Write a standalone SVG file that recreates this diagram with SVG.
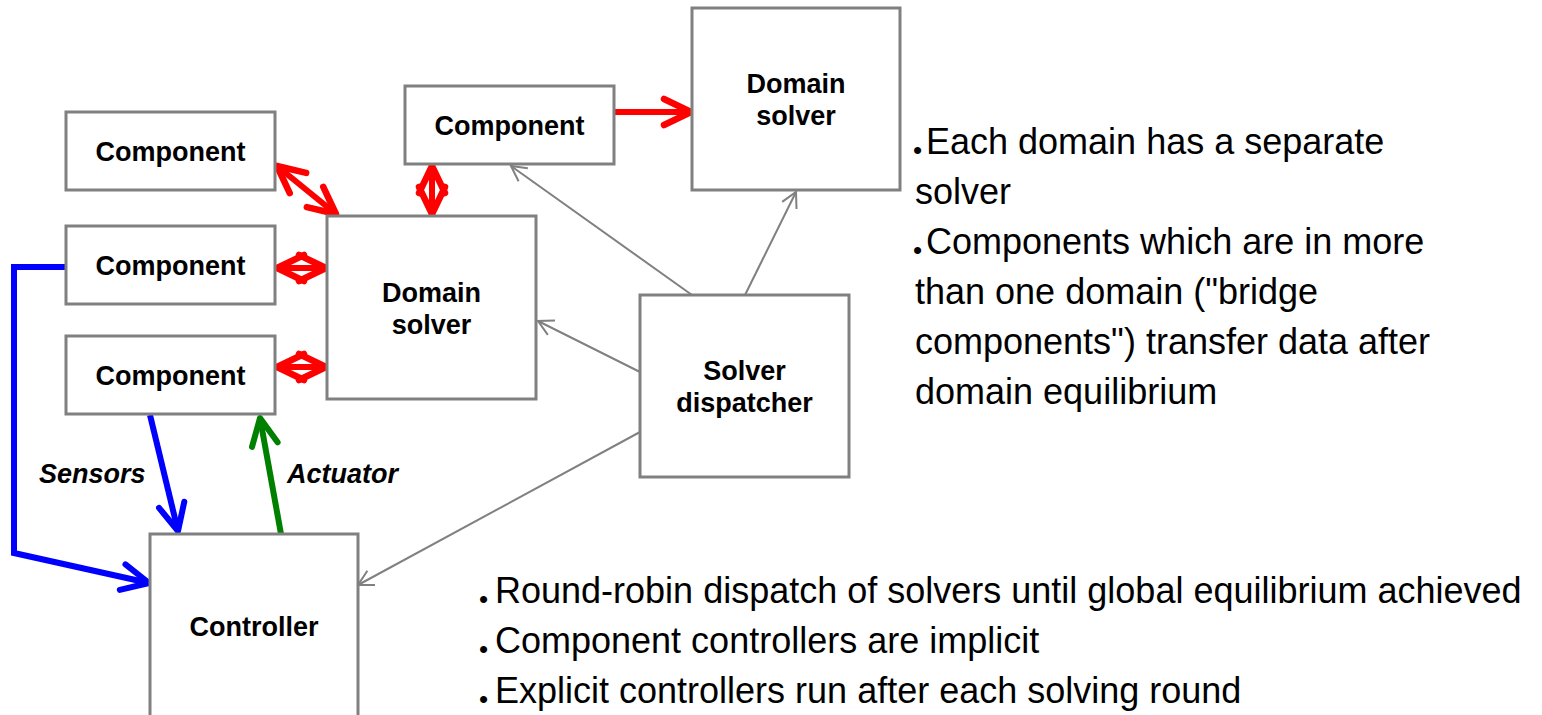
<svg xmlns="http://www.w3.org/2000/svg" width="1542" height="715" viewBox="0 0 1542 715">
<style>
.box{fill:#fff;stroke:#808080;stroke-width:3}
.lbl{font-family:"Liberation Sans",Arial,sans-serif;font-weight:bold;font-size:27px;fill:#000;text-anchor:middle}
.ital{font-family:"Liberation Sans",Arial,sans-serif;font-weight:bold;font-style:italic;font-size:27px;fill:#000}
.body{font-family:"Liberation Sans",Arial,sans-serif;font-size:36px;fill:#000}
.bul{font-size:26px}
.red{stroke:#ff0000;stroke-width:6;fill:none;stroke-linecap:round;stroke-linejoin:round}
.blue{stroke:#0000ff;stroke-width:6;fill:none;stroke-linejoin:miter}
.green{stroke:#008000;stroke-width:6;fill:none}
.gray{stroke:#808080;stroke-width:2;fill:none}
</style>
<defs>
<marker id="ar" markerUnits="userSpaceOnUse" viewBox="-34 -20 40 40" refX="0" refY="0" markerWidth="40" markerHeight="40" orient="auto-start-reverse" overflow="visible">
<path d="M-27,-13 L0,0 L-27,13" fill="none" stroke="#ff0000" stroke-width="6.5" stroke-linecap="round" stroke-linejoin="round"/>
</marker>
<marker id="ab" markerUnits="userSpaceOnUse" viewBox="-34 -20 40 40" refX="0" refY="0" markerWidth="40" markerHeight="40" orient="auto" overflow="visible">
<path d="M-27,-13 L0,0 L-27,13" fill="none" stroke="#0000ff" stroke-width="6" stroke-linecap="round" stroke-linejoin="round"/>
</marker>
<marker id="ag" markerUnits="userSpaceOnUse" viewBox="-34 -20 40 40" refX="0" refY="0" markerWidth="40" markerHeight="40" orient="auto" overflow="visible">
<path d="M-27,-13 L0,0 L-27,13" fill="none" stroke="#008000" stroke-width="6" stroke-linecap="round" stroke-linejoin="round"/>
</marker>
<marker id="ay" markerUnits="userSpaceOnUse" viewBox="-20 -12 24 24" refX="0" refY="0" markerWidth="24" markerHeight="24" orient="auto" overflow="visible">
<path d="M-15,-8 L0,0 L-15,8" fill="none" stroke="#808080" stroke-width="2"/>
</marker>
</defs>
<rect width="1542" height="715" fill="#fff"/>

<g id="connectors">
<line class="gray" x1="692" y1="295" x2="511" y2="166" marker-end="url(#ay)"/>
<line class="gray" x1="745" y1="295" x2="796" y2="192" marker-end="url(#ay)"/>
<line class="gray" x1="640" y1="372" x2="538" y2="321" marker-end="url(#ay)"/>
<line class="gray" x1="640" y1="432" x2="358" y2="585" marker-end="url(#ay)"/>
<line class="red" x1="614" y1="112" x2="691" y2="112" marker-end="url(#ar)"/>
<line class="red" x1="277" y1="166" x2="336" y2="214" marker-start="url(#ar)" marker-end="url(#ar)"/>
<line class="red" x1="432" y1="166" x2="432" y2="214" marker-start="url(#ar)" marker-end="url(#ar)"/>
<line class="red" x1="277" y1="268" x2="326" y2="268" marker-start="url(#ar)" marker-end="url(#ar)"/>
<line class="red" x1="277" y1="367" x2="326" y2="367" marker-start="url(#ar)" marker-end="url(#ar)"/>
<polyline class="blue" points="66,267 14,267 14,553 149,583" marker-end="url(#ab)"/>
<line class="blue" x1="150" y1="415" x2="178" y2="531" marker-end="url(#ab)"/>
<line class="green" x1="281" y1="534" x2="260" y2="418" marker-end="url(#ag)"/>
</g>

<g id="n-comp1"><rect class="box" x="66" y="112" width="209" height="78"/><text class="lbl" x="170.5" y="161">Component</text></g>
<g id="n-comp2"><rect class="box" x="66" y="226" width="209" height="78"/><text class="lbl" x="170.5" y="275">Component</text></g>
<g id="n-comp3"><rect class="box" x="66" y="336" width="209" height="78"/><text class="lbl" x="170.5" y="385">Component</text></g>
<g id="n-comp-top"><rect class="box" x="405" y="86" width="209" height="78"/><text class="lbl" x="509.5" y="135">Component</text></g>
<g id="n-domain-top"><rect class="box" x="692" y="8" width="208" height="182"/><text class="lbl" x="796" y="93">Domain</text><text class="lbl" x="796" y="125">solver</text></g>
<g id="n-domain-left"><rect class="box" x="327" y="216" width="209" height="183"/><text class="lbl" x="431.5" y="302">Domain</text><text class="lbl" x="431.5" y="334">solver</text></g>
<g id="n-dispatcher"><rect class="box" x="640" y="295" width="209" height="182"/><text class="lbl" x="744.5" y="380">Solver</text><text class="lbl" x="744.5" y="412">dispatcher</text></g>
<g id="n-controller"><rect class="box" x="150" y="534" width="208" height="200"/><text class="lbl" x="254" y="636">Controller</text></g>

<g id="labels">
<text class="ital" x="39" y="483">Sensors</text>
<text class="ital" x="287" y="483">Actuator</text>
</g>

<g id="notes">
<text class="body" x="913" y="154"><tspan class="bul" dy="5">•</tspan><tspan x="926" dy="-5">Each domain has a separate</tspan></text>
<text class="body" x="915" y="204">solver</text>
<text class="body" x="913" y="254"><tspan class="bul" dy="5">•</tspan><tspan x="926" dy="-5">Components which are in more</tspan></text>
<text class="body" x="915" y="304">than one domain ("bridge</text>
<text class="body" x="915" y="354">components") transfer data after</text>
<text class="body" x="915" y="404">domain equilibrium</text>
<text class="body" x="479" y="603"><tspan class="bul" dy="5">•</tspan><tspan x="495" dy="-5">Round-robin dispatch of solvers until global equilibrium achieved</tspan></text>
<text class="body" x="479" y="653"><tspan class="bul" dy="5">•</tspan><tspan x="495" dy="-5">Component controllers are implicit</tspan></text>
<text class="body" x="479" y="703"><tspan class="bul" dy="5">•</tspan><tspan x="495" dy="-5">Explicit controllers run after each solving round</tspan></text>
</g>
</svg>
